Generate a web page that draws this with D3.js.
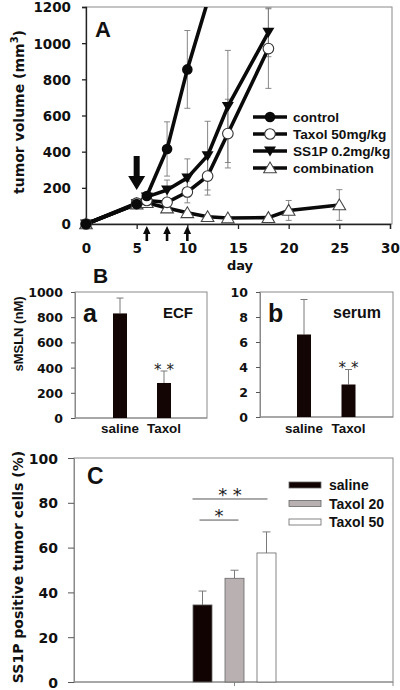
<!DOCTYPE html>
<html><head><meta charset="utf-8">
<script src="https://cdn.jsdelivr.net/npm/d3@7"></script>
<style>body{margin:0;background:#fff} svg{display:block}</style>
</head><body>
<script>
// ---------- Panel A data ----------
const daysControl = [0, 5, 6, 8, 10, 12];
const control     = [0, 110, 155, 415, 855, 1230];
const controlErr  = [0, 0, 0, 150, 215, 0];
const daysTaxol   = [0, 5, 6, 8, 10, 12, 14, 18];
const taxol50     = [0, 115, 130, 120, 177, 265, 500, 970];
const taxol50Err  = [0, 0, 0, 0, 60, 105, 190, 220];
const daysSS1P    = [0, 5, 6, 8, 10, 12, 14, 18];
const ss1p        = [0, 112, 150, 188, 255, 378, 650, 1060];
const ss1pErr     = [0, 0, 0, 55, 105, 190, 310, 135];
const daysCombo   = [0, 5, 6, 8, 10, 12, 14, 18, 20, 25];
const combination = [0, 110, 118, 88, 62, 40, 33, 35, 75, 105];
const comboErr    = [0, 0, 0, 0, 0, 0, 0, 0, 55, 85];
const seriesNames = ["control", "Taxol 50mg/kg", "SS1P 0.2mg/kg", "combination"];
const xTicksA = [0, 5, 10, 15, 20, 25, 30];
const yTicksA = [0, 200, 400, 600, 800, 1000, 1200];
const startDay = [5];
const treatDays = [6, 8, 10];

// ---------- Panel B data ----------
const groupsB = ["saline", "Taxol"];
const ecf = [830, 278];
const ecfErr = [122, 95];
const serum = [6.6, 2.6];
const serumErr = [2.8, 1.2];
const yTicksBa = [0, 200, 400, 600, 800, 1000];
const yTicksBb = [0, 2, 4, 6, 8, 10];

// ---------- Panel C data ----------
const groupsC = ["saline", "Taxol 20", "Taxol 50"];
const positive = [34.4, 46.3, 57.6];
const positiveErr = [6.2, 3.6, 9.4];
const yTicksC = [0, 20, 40, 60, 80, 100];
const sigPairs = [["saline", "Taxol 50", "* *", 81.7], ["saline", "Taxol 20", "*", 72.3]];

const ARIAL = "'Liberation Sans', Arial, sans-serif";
const DEJA = "'DejaVu Sans', sans-serif";
const FRAME = "#8a8a8a", ERR = "#7a7a7a", INK = "#111";

const svg = d3.select("body").append("svg").attr("width", 400).attr("height", 690);

// ================= Panel A =================
const xA = d3.scaleLinear().domain([0, 30]).range([86, 390]);
const yA = d3.scaleLinear().domain([0, 1200]).range([224, 7]);
const gA = svg.append("g");
gA.append("rect").attr("x", 86).attr("y", 7).attr("width", 392 - 86).attr("height", 224 - 7)
  .attr("fill", "none").attr("stroke", FRAME).attr("stroke-width", 1);
const axAx = gA.append("g").attr("transform", "translate(0,224)")
  .call(d3.axisBottom(xA).tickValues(xTicksA).tickSize(5).tickPadding(14).tickFormat(d3.format("d")));
const axAy = gA.append("g").attr("transform", "translate(86,0)")
  .call(d3.axisLeft(yA).tickValues(yTicksA).tickSize(4).tickPadding(11).tickFormat(d3.format("d")));
[axAx, axAy].forEach(a => {
  a.select(".domain").attr("stroke", "#222").attr("stroke-width", 1.3);
  a.selectAll(".tick line").attr("stroke", "#222").attr("stroke-width", 1.3);
  a.selectAll("text").attr("font-family", DEJA).attr("font-weight", "bold")
    .attr("font-size", 13.5).attr("fill", INK);
});
axAy.selectAll("text").attr("dy", "0.36em");

const seriesA = [
  {name: seriesNames[0], x: daysControl, y: control, e: controlErr, shape: "fcircle"},
  {name: seriesNames[1], x: daysTaxol, y: taxol50, e: taxol50Err, shape: "ocircle"},
  {name: seriesNames[2], x: daysSS1P, y: ss1p, e: ss1pErr, shape: "dtri"},
  {name: seriesNames[3], x: daysCombo, y: combination, e: comboErr, shape: "otri"}
];
svg.append("defs").append("clipPath").attr("id", "clipA")
  .append("rect").attr("x", 80).attr("y", 7).attr("width", 320).attr("height", 230);

seriesA.forEach(s => {
  s.x.forEach((d, i) => {
    if (!s.e[i]) return;
    const cx = xA(d), t = yA(Math.min(1200, s.y[i] + s.e[i])), b = yA(s.y[i] - s.e[i]);
    const g = gA.append("g").attr("stroke", ERR).attr("stroke-width", 0.9);
    g.append("line").attr("x1", cx).attr("x2", cx).attr("y1", t).attr("y2", b);
    if (s.y[i] + s.e[i] <= 1200) g.append("line").attr("x1", cx - 3).attr("x2", cx + 3).attr("y1", t).attr("y2", t);
    g.append("line").attr("x1", cx - 3).attr("x2", cx + 3).attr("y1", b).attr("y2", b);
  });
});
const lineGen = d3.line();
[3, 2, 1, 0].forEach(k => {
  const s = seriesA[k];
  gA.append("path").attr("clip-path", "url(#clipA)")
    .attr("d", lineGen(s.x.map((d, i) => [xA(d), yA(s.y[i])])))
    .attr("fill", "none").attr("stroke", "#0a0a0a").attr("stroke-width", 3.6)
    .attr("stroke-linejoin", "round");
});
function marker(g, shape, cx, cy) {
  if (shape === "fcircle") g.append("circle").attr("cx", cx).attr("cy", cy).attr("r", 5.3).attr("fill", "#0a0a0a");
  else if (shape === "ocircle") g.append("circle").attr("cx", cx).attr("cy", cy).attr("r", 5.3)
    .attr("fill", "#fff").attr("stroke", "#333").attr("stroke-width", 1.1);
  else if (shape === "dtri") g.append("path").attr("d", `M${cx - 6},${cy - 4.5}L${cx + 6},${cy - 4.5}L${cx},${cy + 5.5}Z`).attr("fill", "#0a0a0a");
  else g.append("path").attr("d", `M${cx - 6.3},${cy + 4.8}L${cx + 6.3},${cy + 4.8}L${cx},${cy - 6}Z`)
    .attr("fill", "#fff").attr("stroke", "#444").attr("stroke-width", 1.1);
}
[3, 2, 1, 0].forEach(k => {
  const s = seriesA[k];
  s.x.forEach((d, i) => { if (s.y[i] <= 1200) marker(gA, s.shape, xA(d), yA(s.y[i])); });
});
startDay.forEach(d => {
  const cx = xA(d);
  gA.append("path").attr("d", `M${cx - 3},156L${cx + 3},156L${cx + 3},176L${cx + 8.5},176L${cx},190L${cx - 8.5},176L${cx - 3},176Z`)
    .attr("fill", "#0a0a0a");
});
treatDays.forEach(d => {
  const cx = xA(d);
  gA.append("path").attr("d", `M${cx - 1.3},241L${cx + 1.3},241L${cx + 1.3},234L${cx + 3.8},234L${cx},226L${cx - 3.8},234L${cx - 1.3},234Z`)
    .attr("fill", "#0a0a0a");
});
const legA = gA.append("g");
seriesA.forEach((s, i) => {
  const y = 117 + i * 17;
  legA.append("line").attr("x1", 253).attr("x2", 287).attr("y1", y).attr("y2", y)
    .attr("stroke", "#0a0a0a").attr("stroke-width", 3.6);
  marker(legA, s.shape, 270, y);
  legA.append("text").attr("x", 293).attr("y", y + 5).text(s.name)
    .attr("font-family", ARIAL).attr("font-weight", "bold").attr("font-size", 13.6).attr("fill", INK);
});
gA.append("text").attr("x", 95).attr("y", 37).text("A")
  .attr("font-family", ARIAL).attr("font-weight", "bold").attr("font-size", 22).attr("fill", INK);
gA.append("text").attr("x", 240).attr("y", 270).attr("text-anchor", "middle").text("day")
  .attr("font-family", DEJA).attr("font-weight", "bold").attr("font-size", 13).attr("fill", INK);
const tA = gA.append("text").attr("transform", "translate(24,112) rotate(-90)").attr("text-anchor", "middle")
  .attr("font-family", DEJA).attr("font-weight", "bold").attr("font-size", 14).attr("fill", INK);
tA.append("tspan").text("tumor volume (mm");
tA.append("tspan").text("3").attr("font-size", 10).attr("dy", -6);
tA.append("tspan").text(")").attr("dy", 6);

// ================= Panel B =================
function barPanel(opts) {
  const g = svg.append("g");
  const x = d3.scalePoint().domain(groupsB).range(opts.xr);
  const y = d3.scaleLinear().domain(opts.dom).range([opts.y0, 292]);
  g.append("rect").attr("x", opts.left).attr("y", 292).attr("width", opts.right - opts.left)
    .attr("height", opts.y0 - 292).attr("fill", "none").attr("stroke", FRAME);
  const ax = g.append("g").attr("transform", `translate(${opts.left},0)`)
    .call(d3.axisLeft(y).tickValues(opts.ticks).tickSize(4).tickPadding(8).tickFormat(d3.format("d")));
  ax.select(".domain").attr("stroke", FRAME);
  ax.selectAll(".tick line").attr("stroke", "#555");
  ax.selectAll("text").attr("font-family", DEJA).attr("font-weight", "bold").attr("font-size", 12.5)
    .attr("fill", INK).attr("dy", "0.36em");
  g.append("line").attr("x1", opts.left).attr("x2", opts.right).attr("y1", opts.y0).attr("y2", opts.y0).attr("stroke", FRAME);
  groupsB.forEach((k, i) => {
    const cx = x(k), v = opts.vals[i], e = opts.errs[i];
    g.append("line").attr("x1", cx).attr("x2", cx).attr("y1", y(v)).attr("y2", y(v + e)).attr("stroke", ERR);
    g.append("line").attr("x1", cx - 3.5).attr("x2", cx + 3.5).attr("y1", y(v + e)).attr("y2", y(v + e)).attr("stroke", ERR);
    g.append("rect").attr("x", cx - 7).attr("y", y(v)).attr("width", 14).attr("height", y(0) - y(v)).attr("fill", "#140505");
    g.append("text").attr("x", cx).attr("y", 433).attr("text-anchor", "middle").text(k)
      .attr("font-family", ARIAL).attr("font-weight", "bold").attr("font-size", 13.4).attr("fill", INK);
  });
  g.append("text").attr("x", x(groupsB[1])).attr("y", y(opts.vals[1] + opts.errs[1]) + 3.5).attr("text-anchor", "middle")
    .text("* *").attr("font-family", DEJA).attr("font-size", 15).attr("fill", "#222");
  g.append("text").attr("x", opts.left + 8).attr("y", 322).text(opts.letter)
    .attr("font-family", ARIAL).attr("font-weight", "bold").attr("font-size", 25).attr("fill", INK);
  g.append("text").attr("x", opts.labX).attr("y", 318).text(opts.label).attr("text-anchor", "middle")
    .attr("font-family", ARIAL).attr("font-weight", "bold").attr("font-size", opts.labSize).attr("fill", INK);
}
barPanel({left: 75, right: 207, y0: 418, xr: [120, 164], dom: [0, 1000], ticks: yTicksBa,
  vals: ecf, errs: ecfErr, letter: "a", label: "ECF", labX: 178, labSize: 15});
barPanel({left: 260, right: 393, y0: 417, xr: [304, 348.5], dom: [0, 10], ticks: yTicksBb,
  vals: serum, errs: serumErr, letter: "b", label: "serum", labX: 357, labSize: 16});
svg.append("text").attr("x", 93).attr("y", 283).text("B")
  .attr("font-family", ARIAL).attr("font-weight", "bold").attr("font-size", 21).attr("fill", INK);
svg.append("text").attr("transform", "translate(23,334) rotate(-90)").attr("text-anchor", "middle").text("sMSLN (nM)")
  .attr("font-family", ARIAL).attr("font-weight", "bold").attr("font-size", 13).attr("fill", INK);

// ================= Panel C =================
const gC = svg.append("g");
const xC = d3.scalePoint().domain(groupsC).range([202.5, 266.5]);
const yC = d3.scaleLinear().domain([0, 100]).range([682, 458]);
gC.append("rect").attr("x", 74).attr("y", 458).attr("width", 393 - 74).attr("height", 682 - 458)
  .attr("fill", "none").attr("stroke", FRAME);
const axC = gC.append("g").attr("transform", "translate(74,0)")
  .call(d3.axisLeft(yC).tickValues(yTicksC).tickSize(6).tickPadding(10).tickFormat(d3.format("d")));
axC.select(".domain").attr("stroke", FRAME);
axC.selectAll(".tick line").attr("stroke", "#555");
axC.selectAll("text").attr("font-family", DEJA).attr("font-weight", "bold").attr("font-size", 14)
  .attr("fill", INK).attr("dy", "0.36em");
gC.append("line").attr("x1", 74).attr("x2", 393).attr("y1", 682).attr("y2", 682).attr("stroke", FRAME);
[xC("Taxol 20"), 393].forEach(tx => gC.append("line").attr("x1", tx).attr("x2", tx).attr("y1", 682).attr("y2", 686).attr("stroke", FRAME));
const fillsC = ["#120303", "#b9b1b1", "#ffffff"];
groupsC.forEach((k, i) => {
  const cx = xC(k), v = positive[i], e = positiveErr[i];
  gC.append("line").attr("x1", cx).attr("x2", cx).attr("y1", yC(v)).attr("y2", yC(v + e)).attr("stroke", ERR);
  gC.append("line").attr("x1", cx - 4).attr("x2", cx + 4).attr("y1", yC(v + e)).attr("y2", yC(v + e)).attr("stroke", ERR);
  gC.append("rect").attr("x", cx - 9.5).attr("y", yC(v)).attr("width", 19).attr("height", yC(0) - yC(v))
    .attr("fill", fillsC[i]).attr("stroke", "#666").attr("stroke-width", 0.8);
});
sigPairs.forEach((p, j) => {
  const x1 = xC(p[0]) - (j === 0 ? 10 : 3), x2 = xC(p[1]) + (j === 0 ? 1 : 4);
  const yy = yC(p[3]);
  gC.append("line").attr("x1", x1).attr("x2", x2).attr("y1", yy).attr("y2", yy).attr("stroke", "#555").attr("stroke-width", 1);
  gC.append("text").attr("x", (x1 + x2) / 2).attr("y", yy + 2).attr("text-anchor", "middle").text(p[2])
    .attr("font-family", DEJA).attr("font-size", 18).attr("fill", "#222");
});
groupsC.forEach((k, i) => {
  const y = 485 + i * 18.5;
  gC.append("rect").attr("x", 289).attr("y", y - 3).attr("width", 32).attr("height", 6)
    .attr("fill", fillsC[i]).attr("stroke", "#666").attr("stroke-width", 0.8);
  gC.append("text").attr("x", 329).attr("y", y + 5).text(k)
    .attr("font-family", ARIAL).attr("font-weight", "bold").attr("font-size", 14).attr("fill", INK);
});
gC.append("text").attr("x", 87).attr("y", 484).text("C")
  .attr("font-family", ARIAL).attr("font-weight", "bold").attr("font-size", 23).attr("fill", INK);
gC.append("text").attr("transform", "translate(23,567) rotate(-90)").attr("text-anchor", "middle")
  .text("SS1P positive tumor cells (%)")
  .attr("font-family", DEJA).attr("font-weight", "bold").attr("font-size", 14).attr("fill", INK);
</script>
</body></html>
